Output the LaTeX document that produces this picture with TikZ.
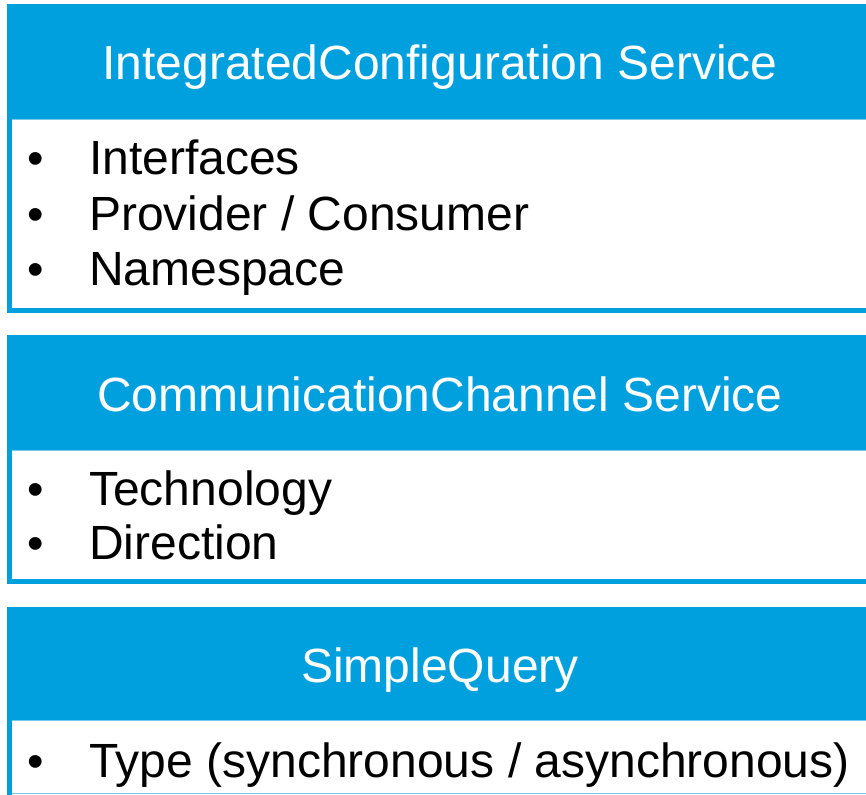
\documentclass[tikz,border=0pt]{standalone}
\usepackage{fontspec}
\setmainfont{Liberation Sans}
\definecolor{hdrblue}{RGB}{0,160,223}
\definecolor{lineblue}{RGB}{120,200,235}
\begin{document}
\begin{tikzpicture}[x=1pt,y=-1pt,
  hdr/.style={anchor=base,text=white,font=\fontsize{48}{56}\selectfont,inner sep=0pt},
  item/.style={anchor=base west,text=black,font=\fontsize{48}{56}\selectfont,inner sep=0pt},
  bul/.style={anchor=base,text=black,font=\fontsize{47}{56}\selectfont,inner sep=0pt}]
\useasboundingbox (0,0) rectangle (866,794);
% box 1
\fill[hdrblue] (7,4) rectangle (876,313);
\fill[white] (12,119) rectangle (876,308);
\draw[lineblue,line width=0.8pt] (12,119.5) -- (876,119.5);
\node[hdr] (t1) at (440,80) {IntegratedConfiguration Service};
\node[bul] (b11) at (36,175) {•};
\node[item] (i11) at (89,175) {Interfaces};
\node[bul] (b12) at (36,230) {•};
\node[item] (i12) at (89,230) {Provider / Consumer};
\node[bul] (b13) at (36,285) {•};
\node[item] (i13) at (89,285) {Namespace};
% box 2
\fill[hdrblue] (7,335) rectangle (876,584);
\fill[white] (12,450) rectangle (876,579);
\draw[lineblue,line width=0.8pt] (12,450.5) -- (876,450.5);
\node[hdr] (t2) at (440,411) {CommunicationChannel Service};
\node[bul] (b21) at (36,505) {•};
\node[item] (i21) at (89,505) {Technology};
\node[bul] (b22) at (36,559) {•};
\node[item] (i22) at (89,559) {Direction};
% box 3
\fill[hdrblue] (7,607) rectangle (876,800);
\fill[white] (12,720) rectangle (876,800);
\draw[lineblue,line width=0.8pt] (12,720.5) -- (876,720.5);
\draw[lineblue,line width=1pt] (12,793.5) -- (876,793.5);
\node[hdr] (t3) at (440,682) {SimpleQuery};
\node[bul] (b31) at (36,777) {•};
\node[item] (i31) at (89,777) {Type (synchronous / asynchronous)};
\end{tikzpicture}
\end{document}
